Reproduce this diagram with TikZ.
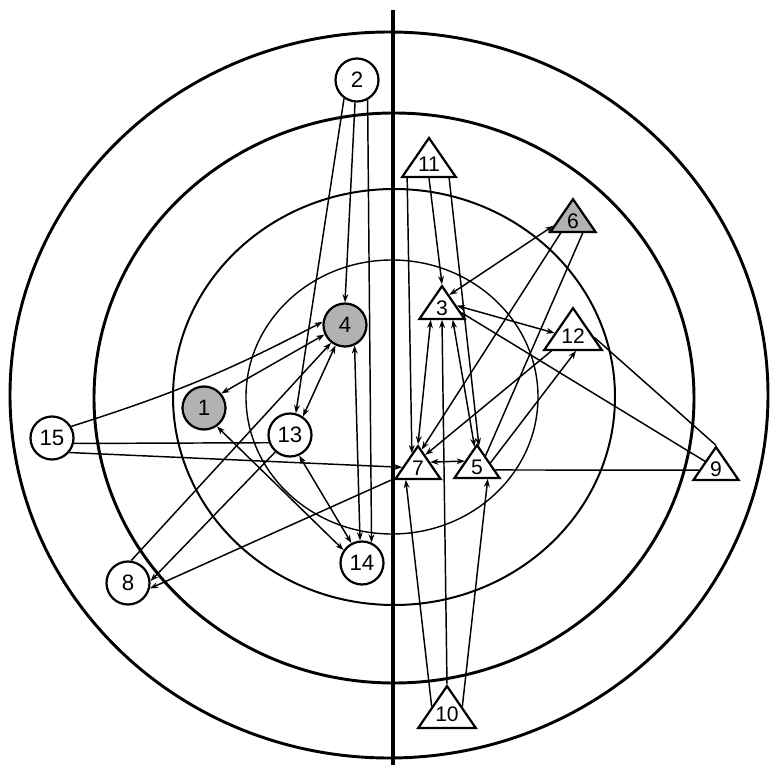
\documentclass[tikz,border=0pt]{standalone}
\usepackage{fontspec}
\setmainfont{Liberation Sans}
\usetikzlibrary{shapes.geometric,calc,arrows.meta,backgrounds}
\newcommand{\trilab}[1]{\scalebox{1}[1.19]{#1}}
\begin{document}
\begin{tikzpicture}[x=0.03cm,y=-0.03cm,
  ringthick/.style={draw, line width=2.5pt},
  ringthin/.style={draw, line width=1.2pt},
  person/.style={circle, draw, line width=1.9pt, fill=white, minimum size=1.29cm, inner sep=0pt, font=\fontsize{19}{19}\selectfont},
  chosen/.style={person, fill=gray!60},
  tri/.style={regular polygon, regular polygon sides=3, draw, line width=1.9pt, fill=white, minimum size=1.56cm, inner sep=0pt, transform shape, yscale=0.84, font=\fontsize{18}{18}\selectfont},
  tristar/.style={tri, fill=gray!60},
  edge/.style={line width=1.25pt},
  arr/.style={edge, -{Stealth[length=7pt,width=5pt]}},
  barr/.style={edge, {Stealth[length=7pt,width=5pt]}-{Stealth[length=7pt,width=5pt]}},
]
\useasboundingbox (0,0) rectangle (771,765);

% persons (circles)
\node[person] (n2) at (357,80) {2};
\node[chosen] (n4) at (345,325) {4};
\node[chosen] (n1) at (204,408) {1};
\node[person] (n13) at (290,435) {13};
\node[person] (n15) at (52,438) {15};
\node[person] (n14) at (362,563) {14};
\node[person] (n8) at (128,583) {8};

% persons (triangles)
\path (429,164) node[tri] (n11) {\trilab{11}};
\path (442,308) node[tri] (n3) {\trilab{3}};
\path (573,221) node[tristar] (n6) {\trilab{6}};
\path (573,336) node[tri] (n12) {\trilab{12}};
\path (418,468) node[tri] (n7) {\trilab{7}};
\path (477,467) node[tri] (n5) {\trilab{5}};
\path (716,469) node[tri] (n9) {\trilab{9}};
\path (447,714) node[tri] (n10) {\trilab{10}};

\begin{pgfonlayer}{background}
\fill[white] (0,0) rectangle (771,765);
% rings and divider
\draw[ringthick] (389,395) ellipse [x radius=379, y radius=363];
\draw[ringthick] (394,398) ellipse [x radius=300, y radius=285];
\draw[line width=1.7pt] (394,397) ellipse [x radius=221, y radius=208];
\draw[ringthin] (392,397) ellipse [x radius=146, y radius=137];
\draw[line width=2.6pt] (393,10) -- (393,770);

% connectors, left group
\draw[arr] (n2.-125) -- (n13.75);
\draw[arr] (n2.-95) -- (n4.90);
\draw[arr] (n2.-62) -- (n14.65);
\draw[barr] (n4.-65) -- (n14.95);
\draw[barr] (n4.205) -- (n1.40);
\draw[arr] (n15.31) to[bend right=5] (n4.172);
\draw[edge] (n15.-14) -- (n13.200);
\draw[arr] (n15.-40) -- (n7);
\draw[barr] (n4.245) -- (n13.55);
\draw[arr] (n8.82) -- (n4.232);
\draw[arr] (n13.229) -- (n8.5);
\draw[arr] (n7) -- (n8.-14);
\draw[barr] (n13.-66) -- (n14.118);
\draw[barr] (n1.-55) -- (n14.145);

% connectors, right group
\draw[arr] ($(n11.corner 2)!0.12!(n11.corner 3)$) -- ($(n7.corner 1)!0.25!(n7.corner 2)$);
\draw[arr] ($(n11.corner 2)!0.5!(n11.corner 3)$) -- (n3.corner 1);
\draw[arr] ($(n11.corner 2)!0.85!(n11.corner 3)$) -- ($(n5.corner 1)!0.08!(n5.corner 3)$);
\draw[barr] ($(n3.corner 2)!0.27!(n3.corner 3)$) -- (n7.corner 1);
\draw[barr] ($(n3.corner 2)!0.72!(n3.corner 3)$) -- ($(n5.corner 1)!0.1!(n5.corner 2)$);
\draw[arr] (n10.corner 1) -- ($(n3.corner 2)!0.5!(n3.corner 3)$);
\draw[arr] ($(n10.corner 1)!0.5!(n10.corner 2)$) -- ($(n7.corner 2)!0.25!(n7.corner 3)$);
\draw[arr] ($(n10.corner 1)!0.5!(n10.corner 3)$) -- ($(n5.corner 2)!0.72!(n5.corner 3)$);
\draw[barr] ($(n7.corner 1)!0.5!(n7.corner 3)$) -- ($(n5.corner 1)!0.5!(n5.corner 2)$);
\draw[edge] ($(n5.corner 1)!0.75!(n5.corner 3)$) -- ($(n9.corner 1)!0.7!(n9.corner 2)$);
\draw[edge] ($(n3.corner 1)!0.8!(n3.corner 3)$) -- ($(n9.corner 1)!0.45!(n9.corner 2)$);
\draw[edge] ($(n12.corner 1)!0.7!(n12.corner 3)$) -- (n9.corner 1);
\draw[barr] ($(n3.corner 1)!0.6!(n3.corner 3)$) -- ($(n12.corner 1)!0.6!(n12.corner 2)$);
\draw[barr] ($(n3.corner 1)!0.3!(n3.corner 3)$) -- ($(n6.corner 1)!0.8!(n6.corner 2)$);
\draw[arr] ($(n6.corner 2)!0.25!(n6.corner 3)$) -- ($(n7.corner 1)!0.15!(n7.corner 3)$);
\draw[edge] ($(n6.corner 2)!0.7!(n6.corner 3)$) -- ($(n5.corner 1)!0.35!(n5.corner 3)$);
\draw[arr] ($(n12.corner 2)!0.15!(n12.corner 3)$) -- ($(n7.corner 1)!0.3!(n7.corner 3)$);
\draw[arr] ($(n5.corner 1)!0.55!(n5.corner 3)$) -- ($(n12.corner 2)!0.55!(n12.corner 3)$);
\end{pgfonlayer}
\end{tikzpicture}
\end{document}
